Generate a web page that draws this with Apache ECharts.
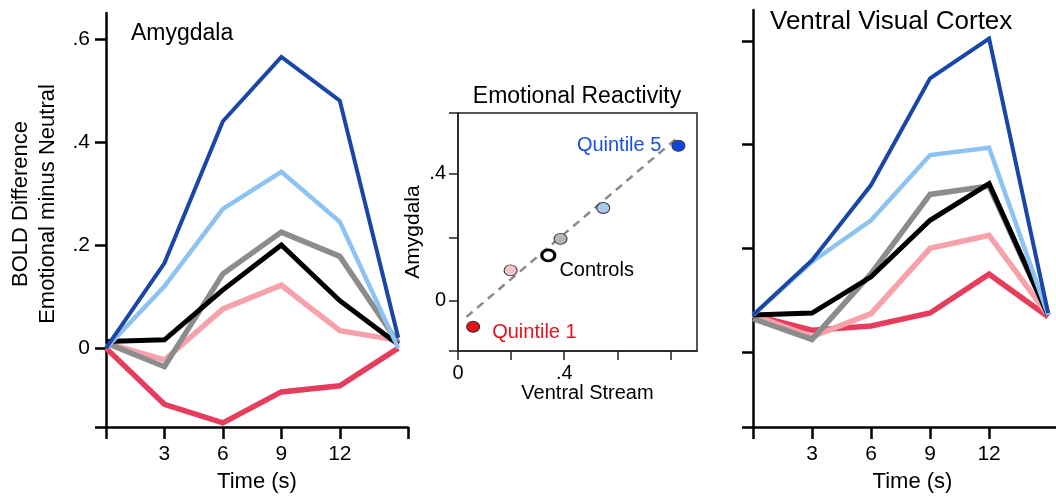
<!DOCTYPE html>
<html>
<head>
<meta charset="utf-8">
<script src="https://cdn.jsdelivr.net/npm/echarts@6/dist/echarts.min.js"></script>
<style>
html,body{margin:0;padding:0;background:#fff;}
#chart{width:1056px;height:498px;}
</style>
</head>
<body>
<div id="chart"></div>
<script>
// ---- data ----
const time = [0, 3, 6, 9, 12, 15];
const groupNames = ['Quintile 1', 'Quintile 2', 'Quintile 3', 'Controls', 'Quintile 4', 'Quintile 5'];
const groupColors = ['#e63d5c', '#f7a1aa', '#8c8c8c', '#000000', '#8dc3f3', '#1a46a8'];
const groupWidths = [5.5, 5.5, 5.5, 5, 4.5, 4];

// Amygdala BOLD difference (emotional minus neutral)
const amyQ1 = [0, -0.109, -0.145, -0.085, -0.073, 0];
const amyQ2 = [0.01, -0.023, 0.076, 0.122, 0.034, 0.015];
const amyQ3 = [0.01, -0.036, 0.144, 0.225, 0.178, 0.01];
const amyCtl = [0.013, 0.016, 0.113, 0.2, 0.092, 0.007];
const amyQ4 = [0, 0.12, 0.27, 0.342, 0.245, 0];
const amyQ5 = [0, 0.165, 0.44, 0.565, 0.48, 0.02];

// Ventral visual cortex BOLD difference
const vvcQ1 = [0.071, 0.042, 0.05, 0.075, 0.15, 0.068];
const vvcQ2 = [0.071, 0.029, 0.074, 0.2, 0.225, 0.071];
const vvcQ3 = [0.064, 0.024, 0.151, 0.304, 0.32, 0.071];
const vvcCtl = [0.071, 0.075, 0.145, 0.254, 0.325, 0.071];
const vvcQ4 = [0.071, 0.174, 0.254, 0.38, 0.394, 0.071];
const vvcQ5 = [0.071, 0.177, 0.322, 0.528, 0.605, 0.075];

// Emotional reactivity scatter
const scatterNames = ['Quintile 1', 'Quintile 2', 'Controls', 'Quintile 3', 'Quintile 4', 'Quintile 5'];
const scatterX = [0.057, 0.198, 0.34, 0.386, 0.547, 0.83];
const scatterY = [-0.081, 0.096, 0.143, 0.195, 0.292, 0.487];
const scatterColors = ['#e8121c', '#f4c3ca', '#ffffff', '#b5b5b5', '#a9c9f1', '#1144e0'];
const fitX = [0.032, 0.83];
const fitY = [-0.05, 0.515];

// tick values
const timeTickLabels = [3, 6, 9, 12];
const boldTickLabels = [0, 0.2, 0.4, 0.6];
const scatterYLabels = [0, 0.4];
const scatterXLabels = [0, 0.4];

// ---- chart ----
const FONT = 'Liberation Sans, Arial, sans-serif';
const fmt = v => (v === 0 ? '0' : String(v).replace(/^0/, '').replace(/^-0/, '-'));
const amySets = [amyQ1, amyQ2, amyQ3, amyCtl, amyQ4, amyQ5];
const vvcSets = [vvcQ1, vvcQ2, vvcQ3, vvcCtl, vvcQ4, vvcQ5];

const axisLine = { onZero: false, lineStyle: { color: '#000', width: 2.5 } };
const tickStyle = { lineStyle: { color: '#000', width: 2.5 } };

function lineSeries(sets, axisIdx) {
  return sets.map((vals, i) => ({
    type: 'line',
    name: groupNames[i],
    xAxisIndex: axisIdx,
    yAxisIndex: axisIdx,
    data: time.map((t, j) => [t, vals[j]]),
    showSymbol: false,
    symbol: 'none',
    smooth: false,
    lineStyle: { color: groupColors[i], width: groupWidths[i], join: 'miter', cap: 'butt' },
    itemStyle: { color: groupColors[i] },
    silent: true,
    animation: false,
    z: 2 + i
  }));
}

const labelCfg = {
  'Quintile 1': { show: true, position: 'right', distance: 12, offset: [0, 6], color: '#e8121c' },
  'Controls': { show: true, position: 'right', distance: 3, offset: [0, 15], color: '#000' },
  'Quintile 5': { show: true, position: 'left', distance: 10, offset: [0, 0], color: '#1a4fe0' }
};

const scatterData = scatterNames.map((n, i) => {
  const d = {
    name: n,
    value: [scatterX[i], scatterY[i]],
    itemStyle: {
      color: scatterColors[i],
      opacity: 1,
      borderColor: n === 'Controls' ? '#000' : '#333',
      borderWidth: n === 'Controls' ? 3 : 1
    }
  };
  if (labelCfg[n]) {
    d.label = Object.assign({ formatter: '{b}', fontSize: 20, fontFamily: FONT, opacity: 1 }, labelCfg[n]);
  }
  return d;
});

const option = {
  backgroundColor: '#fff',
  animation: false,
  textStyle: { fontFamily: FONT },
  title: [
    { text: 'Amygdala', left: 126, top: 17, textStyle: { fontSize: 23, fontWeight: 'normal', color: '#000', fontFamily: FONT } },
    { text: 'Emotional Reactivity', left: 572, top: 80, textAlign: 'center', textStyle: { fontSize: 23, fontWeight: 'normal', color: '#000', fontFamily: FONT } },
    { text: 'Ventral Visual Cortex', left: 765, top: 4, textStyle: { fontSize: 26, fontWeight: 'normal', color: '#000', fontFamily: FONT } }
  ],
  grid: [
    { left: 106, top: 13, width: 302, height: 414 },
    { left: 753, top: 10, width: 306, height: 417 },
    { left: 458, top: 113, width: 239, height: 238, show: true, borderColor: '#222', borderWidth: 1.5, backgroundColor: 'transparent' }
  ],
  xAxis: [
    {
      gridIndex: 0, type: 'value', min: 0, max: 15.5,
      name: 'Time (s)', nameLocation: 'middle', nameGap: 44,
      nameTextStyle: { fontSize: 22, color: '#000', fontFamily: FONT },
      axisLine: axisLine,
      axisTick: Object.assign({ show: true, length: 12, inside: false, customValues: [0, 3, 6, 9, 12, 15.5] }, tickStyle),
      axisLabel: { customValues: timeTickLabels, fontSize: 21, color: '#000', margin: 17, fontFamily: FONT },
      splitLine: { show: false }
    },
    {
      gridIndex: 1, type: 'value', min: 0, max: 15.4,
      name: 'Time (s)', nameLocation: 'middle', nameGap: 44,
      nameTextStyle: { fontSize: 22, color: '#000', fontFamily: FONT, padding: [0, 0, 0, 16] },
      axisLine: axisLine,
      axisTick: Object.assign({ show: true, length: 12, inside: false, customValues: [0, 3, 6, 9, 12] }, tickStyle),
      axisLabel: { customValues: timeTickLabels, fontSize: 21, color: '#000', margin: 17, fontFamily: FONT },
      splitLine: { show: false }
    },
    {
      gridIndex: 2, type: 'value', min: 0, max: 0.9,
      name: 'Ventral Stream', nameLocation: 'middle', nameGap: 30,
      nameTextStyle: { fontSize: 20, color: '#000', fontFamily: FONT, padding: [0, 0, 0, 20] },
      axisLine: { onZero: false, lineStyle: { color: '#222', width: 1.5 } },
      axisTick: { show: true, length: 9, customValues: [0, 0.2, 0.4, 0.6, 0.8], lineStyle: { color: '#222', width: 1.5 } },
      axisLabel: { customValues: scatterXLabels, formatter: fmt, fontSize: 20, color: '#000', margin: 12, fontFamily: FONT },
      splitLine: { show: false }
    }
  ],
  yAxis: [
    {
      gridIndex: 0, type: 'value', min: -0.153, max: 0.65,
      axisLine: axisLine,
      axisTick: Object.assign({ show: true, length: 11, customValues: [-0.153, 0, 0.2, 0.4, 0.6] }, tickStyle),
      axisLabel: { customValues: boldTickLabels, formatter: fmt, fontSize: 21, color: '#000', margin: 16, fontFamily: FONT },
      splitLine: { show: false }
    },
    {
      gridIndex: 1, type: 'value', min: -0.145, max: 0.66,
      axisLine: axisLine,
      axisTick: Object.assign({ show: true, length: 11, customValues: [-0.145, 0, 0.2, 0.4, 0.6] }, tickStyle),
      axisLabel: { show: false },
      splitLine: { show: false }
    },
    {
      gridIndex: 2, type: 'value', min: -0.157, max: 0.59,
      name: 'Amygdala', nameLocation: 'middle', nameGap: 34, nameRotate: 90,
      nameTextStyle: { fontSize: 21, color: '#000', fontFamily: FONT },
      axisLine: { onZero: false, lineStyle: { color: '#222', width: 1.5 } },
      axisTick: { show: true, length: 9, customValues: [-0.157, 0, 0.2, 0.4, 0.59], lineStyle: { color: '#222', width: 1.5 } },
      axisLabel: { customValues: scatterYLabels, formatter: fmt, fontSize: 20, color: '#000', margin: 12, fontFamily: FONT },
      splitLine: { show: false }
    }
  ],
  graphic: [
    { type: 'text', x: 21, y: 204, rotation: Math.PI / 2, style: { text: 'BOLD Difference', fontSize: 22, fontFamily: FONT, fill: '#000', align: 'center', verticalAlign: 'middle' } },
    { type: 'text', x: 48, y: 204, rotation: Math.PI / 2, style: { text: 'Emotional minus Neutral', fontSize: 22, fontFamily: FONT, fill: '#000', align: 'center', verticalAlign: 'middle' } }
  ],
  series: [
    ...lineSeries(amySets, 0),
    ...lineSeries(vvcSets, 1),
    {
      type: 'line', xAxisIndex: 2, yAxisIndex: 2,
      data: fitX.map((x, i) => [x, fitY[i]]),
      showSymbol: false, symbol: 'none', silent: true,
      lineStyle: { color: '#8a8a8a', width: 2.5, type: [8, 6] },
      z: 2
    },
    {
      type: 'scatter', xAxisIndex: 2, yAxisIndex: 2,
      data: scatterData,
      symbol: 'circle', symbolSize: [13, 11],
      silent: true,
      itemStyle: { opacity: 1 },
      label: { show: false },
      z: 5
    }
  ]
};

const chart = echarts.init(document.getElementById('chart'), null, { renderer: 'canvas' });
chart.setOption(option);
</script>
</body>
</html>
